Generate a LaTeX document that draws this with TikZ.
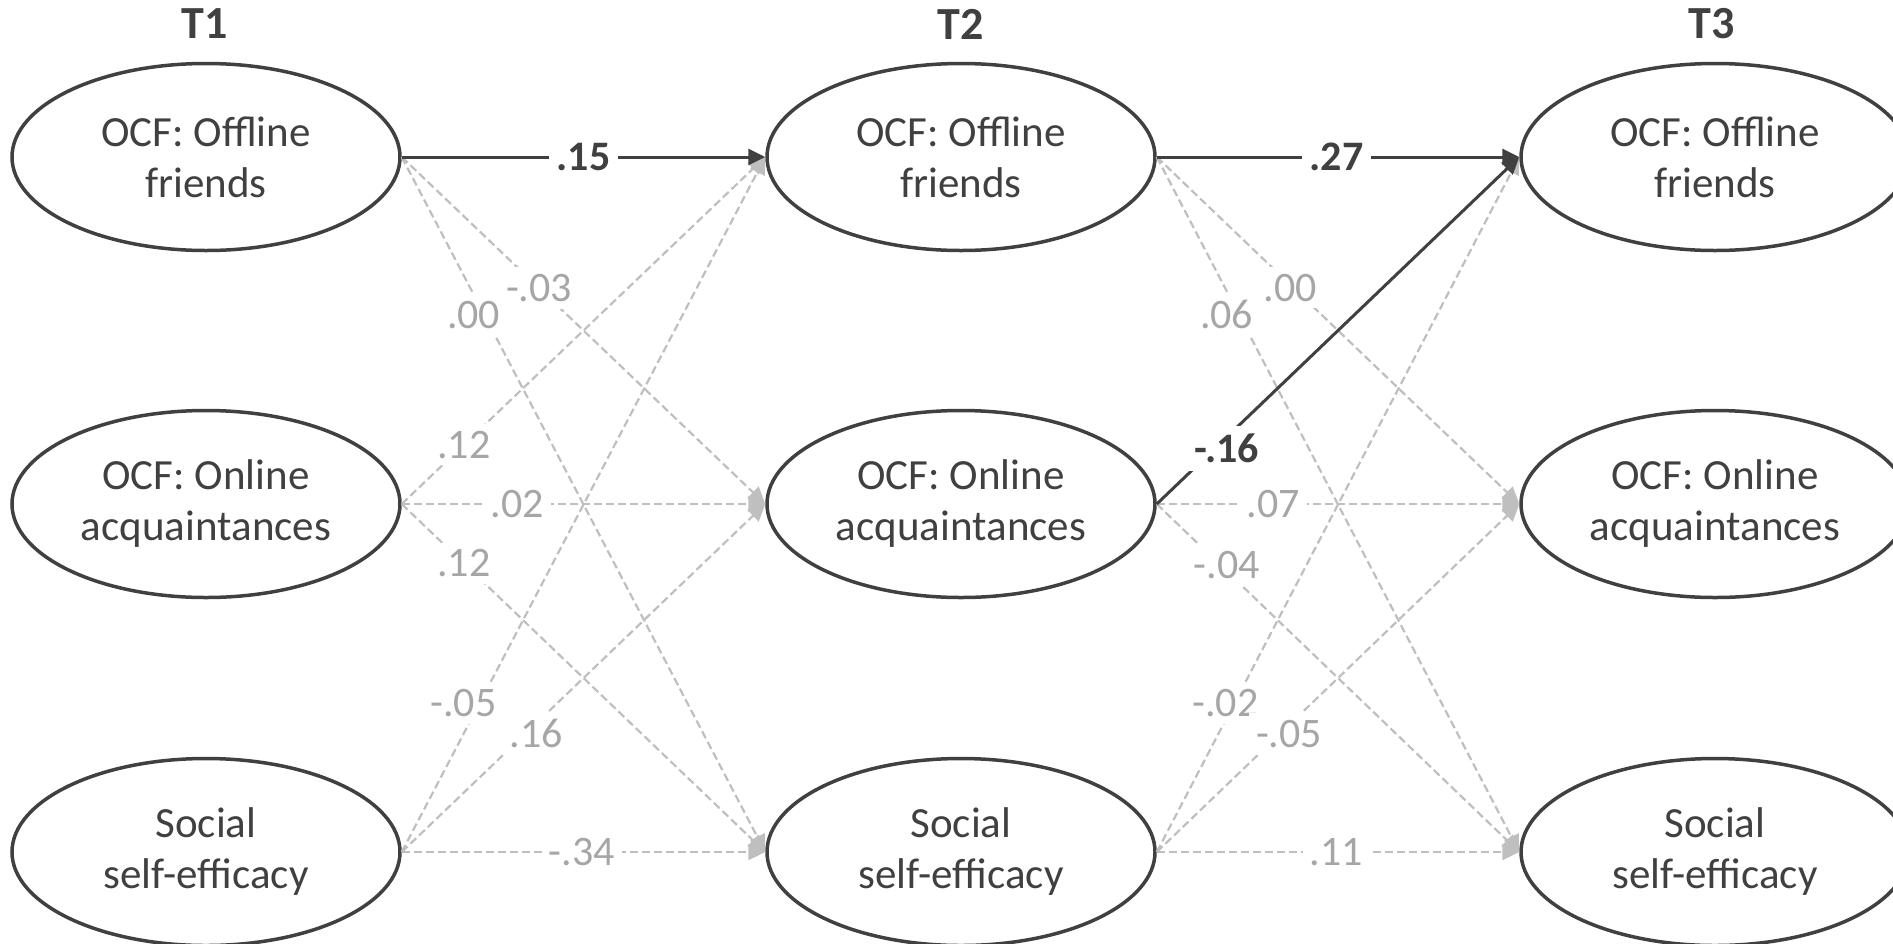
\documentclass[tikz,border=0pt]{standalone}
\usepackage{fontspec}
\setmainfont{Carlito}
\usetikzlibrary{shapes.geometric,arrows.meta}
\definecolor{dk}{HTML}{404040}
\definecolor{lt}{HTML}{BFBFBF}
\definecolor{lbl}{HTML}{A6A6A6}
\begin{document}
\begin{tikzpicture}[x=0.5pt,y=-0.5pt,
 var/.style={ellipse,draw=dk,line width=1.75pt,minimum width=194pt,minimum height=93.5pt,inner sep=0pt,align=center,text=dk,font=\fontsize{21.5}{25.5}\selectfont},
 hdr/.style={text=dk,font=\fontsize{23}{28}\selectfont\bfseries},
 sig/.style={draw=dk,line width=1.5pt,-{Triangle[length=8.5pt,width=8pt]}},
 ns/.style={draw=lt,line width=1.1pt,dash pattern=on 4pt off 2pt,-{Triangle[length=8.5pt,width=8pt]}},
 slab/.style={fill=white,text=dk,font=\fontsize{21}{24}\selectfont\bfseries,inner sep=4pt},
 nlab/.style={fill=white,text=lbl,font=\fontsize{21}{24}\selectfont,inner sep=3.5pt},
]
\useasboundingbox (0,0) rectangle (1893,943);
\clip (0,0) rectangle (1893,943);
\node[hdr] (t1) at (205,24) {T1};
\node[hdr] (t2) at (961,24) {T2};
\node[hdr] (t3) at (1712,24) {T3};
\node[var] (a1) at (206,157) {OCF: Offline\\friends};
\node[var] (a2) at (206,504) {OCF: Online\\acquaintances};
\node[var] (a3) at (206,852) {Social\\self-efficacy};
\node[var] (b1) at (961,157) {OCF: Offline\\friends};
\node[var] (b2) at (961,504) {OCF: Online\\acquaintances};
\node[var] (b3) at (961,852) {Social\\self-efficacy};
\node[var] (c1) at (1715,157) {OCF: Offline\\friends};
\node[var] (c2) at (1715,504) {OCF: Online\\acquaintances};
\node[var] (c3) at (1715,852) {Social\\self-efficacy};
% T1 -> T2 nonsignificant
\draw[ns] (a1.east) -- node[nlab,pos=0.227,xshift=-5.3pt]{.00} (b3.west);
\draw[ns] (a1.east) -- node[nlab,pos=0.378]{-.03} (b2.west);
\draw[ns] (a2.east) -- node[nlab,pos=0.171]{.12} (b1.west);
\draw[ns] (a2.east) -- node[nlab,pos=0.318]{.02} (b2.west);
\draw[ns] (a2.east) -- node[nlab,pos=0.171]{.12} (b3.west);
\draw[ns] (a3.east) -- node[nlab,pos=0.214,xshift=-8pt]{-.05} (b1.west);
\draw[ns] (a3.east) -- node[nlab,pos=0.37,yshift=-5pt]{.16} (b2.west);
\draw[ns] (a3.east) -- node[nlab,pos=0.495]{-.34} (b3.west);
% T2 -> T3 nonsignificant
\draw[ns] (b1.east) -- node[nlab,pos=0.226,xshift=-6pt]{.06} (c3.west);
\draw[ns] (b1.east) -- node[nlab,pos=0.368,yshift=-1.5pt]{.00} (c2.west);
\draw[ns] (b2.east) -- node[nlab,pos=0.322]{.07} (c2.west);
\draw[ns] (b2.east) -- node[nlab,pos=0.193,yshift=3pt]{-.04} (c3.west);
\draw[ns] (b3.east) -- node[nlab,pos=0.214,xshift=-4.5pt]{-.02} (c1.west);
\draw[ns] (b3.east) -- node[nlab,pos=0.365,yshift=-4.5pt]{-.05} (c2.west);
\draw[ns] (b3.east) -- node[nlab,pos=0.496]{.11} (c3.west);
% significant
\draw[sig] (a1.east) -- node[slab,pos=0.5]{.15} (b1.west);
\draw[sig] (b1.east) -- node[slab,pos=0.496]{.27} (c1.west);
\draw[sig] (b2.east) -- node[slab,pos=0.193,yshift=-5.5pt]{-.16} (c1.west);
\end{tikzpicture}
\end{document}
